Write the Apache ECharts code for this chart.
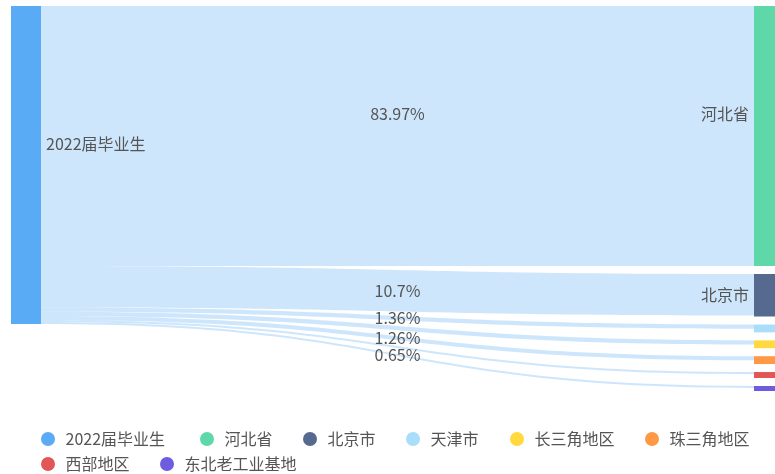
<!DOCTYPE html>
<html>
<head>
<meta charset="utf-8">
<script src="https://cdn.jsdelivr.net/npm/echarts@6/dist/echarts.min.js"></script>
<style>
  html, body { margin: 0; padding: 0; background: #fff; }
  #chart { width: 775px; height: 474px; }
</style>
</head>
<body>
<div id="chart"></div>
<script>
let $ = a => document.querySelector(a)

// 节点 (来源 + 去向)
let source = '2022届毕业生'
let targets = ['河北省', '北京市', '天津市', '长三角地区', '珠三角地区', '西部地区', '东北老工业基地']
let colors = ['#5aabf5', '#5ed8a9', '#56698f', '#a9ddf9', '#ffd93d', '#ff9945', '#e25656', '#6d5ce0']

// 流向数值 (按图中宽度估计) 和连线上显示的百分比
let linkValues = [83.0, 13.3, 1.36, 1.3, 1.26, 0.7, 0.65]
let nodeValues = [83.0, 13.6, 2.5, 2.5, 2.5, 1.9, 1.6]
let linkLabels = ['83.97%', '10.7%', '1.36%', '', '1.26%', '', '0.65%']

let font = 'Noto Sans CJK SC'
let allNames = [source].concat(targets)

// 图例每一项的位置 (两行)
let legendPos = [[36, 426], [195, 426], [298, 426], [401, 426], [505, 426], [640, 426], [36, 451], [155, 451]]

// 桑基图
{
    let nodes = [{
        name: source,
        itemStyle: { color: colors[0] },
        label: { position: 'right', offset: [0, -21] }
    }]
    targets.forEach((t, i) => {
        nodes.push({
            name: t,
            value: nodeValues[i],
            itemStyle: { color: colors[i + 1] },
            label: {
                show: i < 2, // 小节点不显示标签
                position: 'left',
                offset: i === 0 ? [0, -22] : [0, 0]
            }
        })
    })

    let links = targets.map((t, i) => {
        let l = { source: source, target: t, value: linkValues[i] }
        if (i === 0) l.edgeLabel = { offset: [0, -22] }
        return l
    })

    // 图例用的空散点系列 (桑基图本身不提供图例颜色)
    let dummy = allNames.map((n, i) => ({
        type: 'scatter',
        name: n,
        data: [],
        symbol: 'circle',
        itemStyle: { color: colors[i], opacity: 1 }
    }))

    let legends = allNames.map((n, i) => ({
        data: [n],
        left: legendPos[i][0],
        top: legendPos[i][1],
        icon: 'circle',
        itemWidth: 25,
        itemHeight: 14,
        textStyle: { fontSize: 16, color: '#555', fontFamily: font }
    }))

    echarts.init($('#chart')).setOption({
        animation: false,
        textStyle: { fontFamily: font },
        grid: { show: false, left: 0, top: 0, width: 1, height: 1 },
        xAxis: { show: false },
        yAxis: { show: false },
        legend: legends,
        series: [{
            type: 'sankey',
            left: 11,
            right: -9,
            top: 6,
            bottom: 83,
            nodeWidth: 30,
            nodeGap: 8,
            layoutIterations: 0,
            draggable: false,
            emphasis: { disabled: true },
            itemStyle: { borderWidth: 0 },
            label: {
                fontSize: 16,
                color: '#555',
                fontFamily: font
            },
            edgeLabel: {
                show: true,
                fontSize: 16,
                color: '#555',
                fontFamily: font,
                formatter: p => linkLabels[p.dataIndex]
            },
            lineStyle: {
                color: 'source',
                opacity: 0.3,
                curveness: 0.5
            },
            data: nodes,
            links: links
        }].concat(dummy)
    })
}
</script>
</body>
</html>
